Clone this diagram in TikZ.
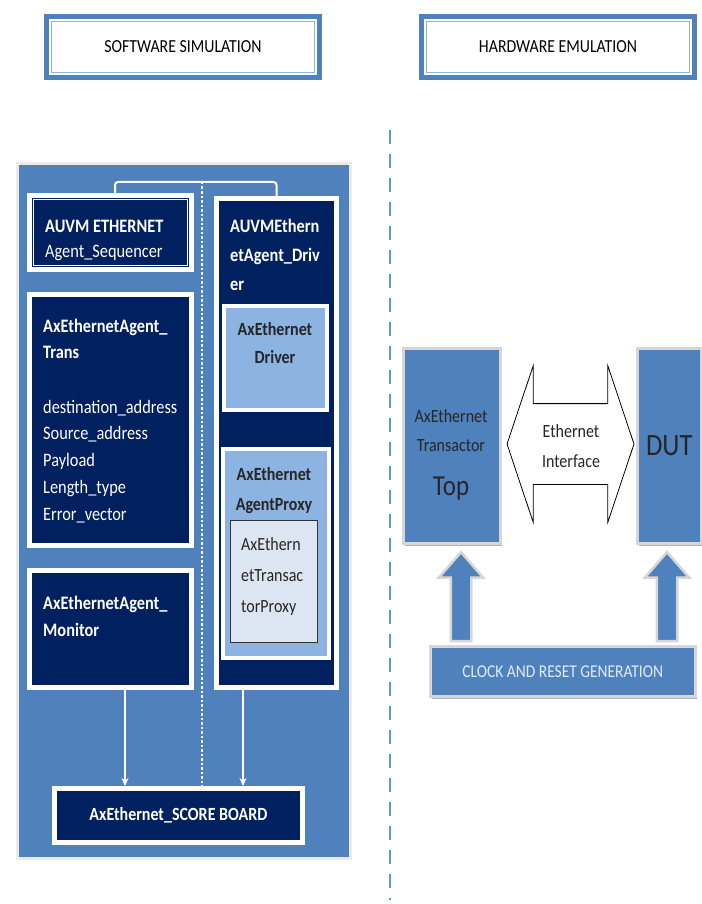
\documentclass[tikz,border=0pt]{standalone}
\usepackage{fontspec}
\setmainfont{Carlito}[FakeStretch=0.86]
\usetikzlibrary{shapes.arrows,shadows,arrows.meta}

\definecolor{panelblue}{RGB}{79,129,189}
\definecolor{navy}{RGB}{0,32,96}
\definecolor{driverblue}{RGB}{141,179,226}
\definecolor{paleblue}{RGB}{220,230,242}
\definecolor{dashblue}{RGB}{91,155,213}
\definecolor{framegray}{RGB}{214,214,214}
\definecolor{clocktext}{RGB}{225,234,246}

\tikzset{
  box/.style={rectangle, anchor=north west, inner sep=0pt},
  header/.style={box, draw=panelblue, line width=5pt, fill=white, font=\fontsize{18.4}{20}\selectfont},
  agent/.style={box, draw=white, line width=5pt, fill=navy},
  subagent/.style={box, draw=white, line width=4pt, fill=driverblue},
  hwbox/.style={box, draw=framegray, line width=2.5pt, fill=panelblue,
    drop shadow={shadow xshift=1.5pt, shadow yshift=-3pt, fill=black!30, opacity=1}},
  lbl/.style={inner sep=0pt, anchor=base west, font=\fontsize{19}{21}\selectfont},
  navytext/.style={lbl, text=white},
  navybold/.style={lbl, text=white, font=\fontsize{19}{21}\selectfont\bfseries},
  darkbold/.style={lbl, anchor=base, text=black!85, font=\fontsize{18.6}{21}\selectfont\bfseries},
  hwtext/.style={lbl, anchor=base, text=black!85, font=\fontsize{18.6}{21}\selectfont},
  wire/.style={white, line width=2pt},
  clkarrow/.style={single arrow, shape border rotate=90, draw=framegray, line width=2.5pt,
    fill=panelblue, inner sep=9pt, minimum height=89,
    single arrow head extend=12, single arrow tip angle=82}
}

\begin{document}
\begin{tikzpicture}[x=1pt, y=-1pt]
\useasboundingbox (0,0) rectangle (701,904);

% titres
\node[header, minimum width=273, minimum height=61] (swhdr) at (44,14) {SOFTWARE SIMULATION};
\node[header, minimum width=273, minimum height=61] (hwhdr) at (419,14) {HARDWARE EMULATION};
\draw[driverblue, line width=0.8pt] ([shift={(7.5,7.5)}]swhdr.north west) rectangle ([shift={(-7.5,-7.5)}]swhdr.south east);
\draw[driverblue, line width=0.8pt] ([shift={(7.5,7.5)}]hwhdr.north west) rectangle ([shift={(-7.5,-7.5)}]hwhdr.south east);

% separation
\coordinate (divtop) at (390,130);
\coordinate (divbot) at (390,900);
\draw[dashblue, line width=2pt, dash pattern=on 14pt off 10pt] (divtop) -- (divbot);

% simulation
\node[box, draw=black!8, line width=3pt, fill=panelblue, minimum width=333, minimum height=695] (sw) at (16,162) {};

\node[agent, minimum width=162, minimum height=74] (seq) at (27,193) {};
\draw[white, line width=0.8pt] ([shift={(6.5,6.5)}]seq.north west) rectangle ([shift={(-6.5,-6.5)}]seq.south east);
\node[navybold] (seql1) at (45,232) {AUVM ETHERNET};
\node[navytext] (seql2) at (45,257) {Agent\_Sequencer};

\node[agent, minimum width=162, minimum height=251] (trans) at (27,292) {};
\node[navybold] (transl1) at (43,332) {AxEthernetAgent\_};
\node[navybold] (transl2) at (43,358) {Trans};
\foreach \f [count=\i from 0] in {destination\_address, Source\_address, Payload, Length\_type, Error\_vector}
  \node[navytext] (field\i) at (43,{413+26.8*\i}) {\f};

\node[agent, minimum width=162, minimum height=117] (mon) at (27,568) {};
\node[navybold] (monl1) at (43,609) {AxEthernetAgent\_};
\node[navybold] (monl2) at (43,636) {Monitor};

\node[agent, minimum width=120, minimum height=489] (drv) at (214,196) {};
\foreach \t [count=\i from 0] in {AUVMEthern, etAgent\_Driv, er}
  \node[navybold] (drvl\i) at (230,{232+29*\i}) {\t};

\node[subagent, minimum width=103, minimum height=104] (axdrv) at (222,304) {};
\node[darkbold] (axdrvl1) at (275,335) {AxEthernet};
\node[darkbold] (axdrvl2) at (275,363) {Driver};

\node[subagent, minimum width=106, minimum height=209] (proxy) at (221,447) {};
\node[darkbold] (proxyl1) at (274,480) {AxEthernet};
\node[darkbold] (proxyl2) at (274,510) {AgentProxy};

\node[box, draw=black!80, line width=1.2pt, fill=paleblue, minimum width=87, minimum height=122] (tproxy) at (230,520) {};
\foreach \t [count=\i from 0] in {AxEthern, etTransac, torProxy}
  \node[lbl, text=black!85, font=\fontsize{18.6}{21}\selectfont] (tproxyl\i) at (241,{550+31*\i}) {\t};

\node[agent, minimum width=248, minimum height=54, text=white, font=\fontsize{18.6}{21}\selectfont\bfseries] (sb) at (52,786) {AxEthernet\_SCORE BOARD};

% liaisons
\draw[wire, rounded corners=3pt] ([xshift=4.5pt]seq.north) -- ++(0,-11) -| (drv.north);
\coordinate (split) at (202,182);
\draw[white, line width=2.5pt, dash pattern=on 2.5pt off 2pt] (split) -- (split |- sb.north);
\draw[wire, line width=1.5pt, -{Stealth[length=8pt,width=7pt]}] ([xshift=14.5pt]mon.south) -- ([xshift=14.5pt]mon.south |- sb.north);
\draw[wire, line width=1.5pt, -{Stealth[length=8pt,width=7pt]}] ([xshift=-33.5pt]drv.south) -- ([xshift=-33.5pt]drv.south |- sb.north);

% emulation
\node[hwbox, minimum width=97, minimum height=195] (tt) at (402,347) {};
\node[hwtext] (ttl1) at (451,422) {AxEthernet};
\node[hwtext] (ttl2) at (451,451) {Transactor};
\node[hwtext, font=\fontsize{29}{31}\selectfont] (ttl3) at (451,495) {Top};

\node[hwbox, minimum width=64, minimum height=195, text=black!85, font=\fontsize{31}{33}\selectfont] (dut) at (636,347) {DUT};

\node[double arrow, draw=black, line width=0.8pt, fill=white, inner xsep=0pt, inner ysep=40pt,
  minimum height=127, double arrow head extend=38,
  double arrow tip angle=143] (eth) at (570.5,444) {};
\node[hwtext] (ethl1) at (571,437) {Ethernet};
\node[hwtext] (ethl2) at (571,467) {Interface};

\node[clkarrow] (clkup1) at (461,602.5) {};
\node[clkarrow] (clkup2) at (667,602.5) {};
\node[hwbox, minimum width=265, minimum height=50, text=clocktext, font=\fontsize{18}{20}\selectfont] (clock) at (429,645) {CLOCK AND RESET GENERATION};

\end{tikzpicture}
\end{document}
